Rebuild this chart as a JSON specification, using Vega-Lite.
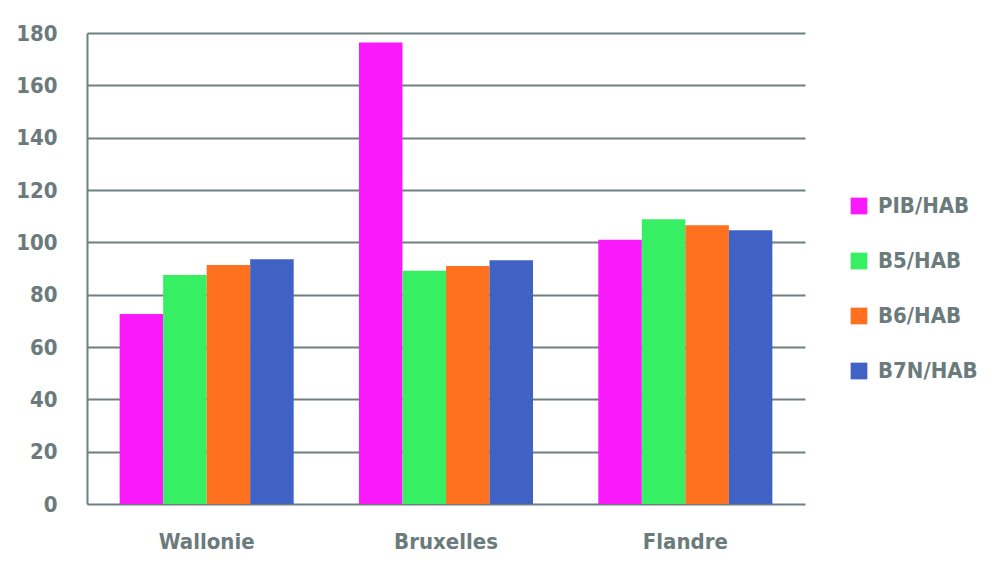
{
  "$schema": "https://vega.github.io/schema/vega-lite/v6.json",
  "width": 718,
  "height": 471,
  "autosize": {"type": "none"},
  "padding": {"left": 87, "top": 33, "right": 195, "bottom": 80},
  "background": "white",
  "config": {
    "view": {"stroke": null},
    "font": "Liberation Sans Narrow, DejaVu Sans Condensed, sans-serif"
  },
  "data": {
    "values": [
      {"region": "Wallonie", "serie": "PIB/HAB", "value": 72.6},
      {"region": "Wallonie", "serie": "B5/HAB", "value": 87.5},
      {"region": "Wallonie", "serie": "B6/HAB", "value": 91.3},
      {"region": "Wallonie", "serie": "B7N/HAB", "value": 93.5},
      {"region": "Bruxelles", "serie": "PIB/HAB", "value": 176.4},
      {"region": "Bruxelles", "serie": "B5/HAB", "value": 89.1},
      {"region": "Bruxelles", "serie": "B6/HAB", "value": 91.0},
      {"region": "Bruxelles", "serie": "B7N/HAB", "value": 93.2},
      {"region": "Flandre", "serie": "PIB/HAB", "value": 101.0},
      {"region": "Flandre", "serie": "B5/HAB", "value": 108.8},
      {"region": "Flandre", "serie": "B6/HAB", "value": 106.5},
      {"region": "Flandre", "serie": "B7N/HAB", "value": 104.6}
    ]
  },
  "mark": {"type": "bar"},
  "encoding": {
    "x": {
      "field": "region",
      "type": "nominal",
      "sort": ["Wallonie", "Bruxelles", "Flandre"],
      "scale": {"paddingInner": 0, "paddingOuter": 0},
      "axis": {
        "title": null,
        "labelAngle": 0,
        "ticks": false,
        "domain": false,
        "labelFontSize": 22,
        "labelFontWeight": "bold",
        "labelColor": "#6b7b7b",
        "labelPadding": 27
      }
    },
    "xOffset": {
      "field": "serie",
      "type": "nominal",
      "sort": ["PIB/HAB", "B5/HAB", "B6/HAB", "B7N/HAB"],
      "scale": {"paddingInner": 0, "paddingOuter": 0.75}
    },
    "y": {
      "field": "value",
      "type": "quantitative",
      "scale": {"domain": [0, 180], "nice": false},
      "axis": {
        "title": null,
        "values": [0, 20, 40, 60, 80, 100, 120, 140, 160, 180],
        "ticks": false,
        "domain": true,
        "domainColor": "#6f8080",
        "domainWidth": 2,
        "grid": true,
        "gridColor": "#6f8080",
        "gridWidth": 2,
        "gridOpacity": 1,
        "labelFontSize": 22,
        "labelFontWeight": "bold",
        "labelColor": "#6b7b7b",
        "labelPadding": 30
      }
    },
    "color": {
      "field": "serie",
      "type": "nominal",
      "sort": ["PIB/HAB", "B5/HAB", "B6/HAB", "B7N/HAB"],
      "scale": {
        "domain": ["PIB/HAB", "B5/HAB", "B6/HAB", "B7N/HAB"],
        "range": ["#fa19fa", "#37ef63", "#ff711f", "#3f62c4"]
      },
      "legend": {
        "title": null,
        "orient": "none",
        "legendX": 761,
        "legendY": 162,
        "symbolType": "square",
        "symbolSize": 280,
        "symbolStrokeWidth": 0,
        "labelFontSize": 22,
        "labelFontWeight": "bold",
        "labelColor": "#6b7b7b",
        "labelOffset": 8,
        "rowPadding": 33,
        "labelLimit": 200
      }
    }
  }
}
